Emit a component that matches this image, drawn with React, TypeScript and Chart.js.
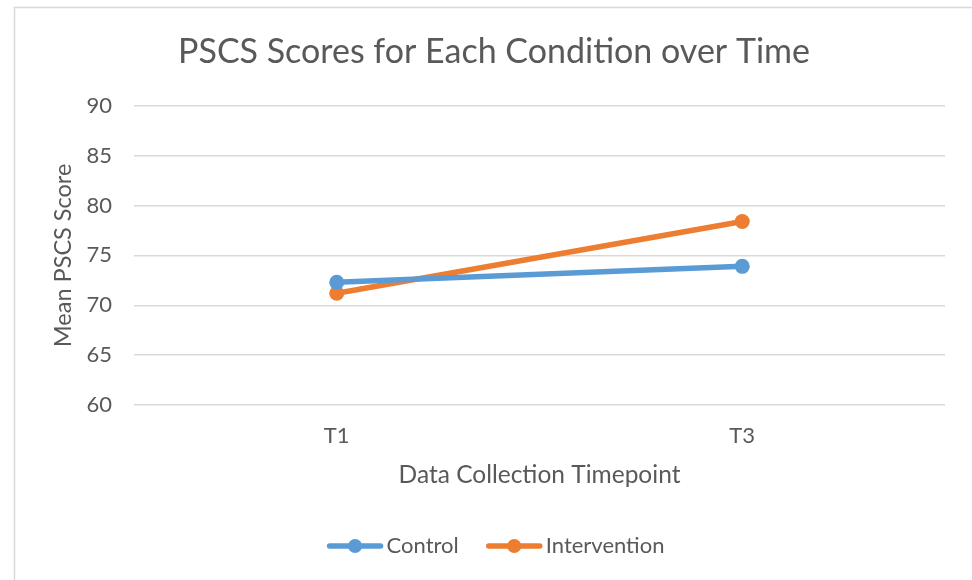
import React, { useEffect, useRef } from "react";
import { Chart, registerables } from "chart.js";

Chart.register(...registerables);

const categories = ["T1", "T3"];
const seriesNames = ["Control", "Intervention"];
const controlValues = [72.3, 73.9];
const interventionValues = [71.2, 78.4];
const seriesColors = ["#5B9BD5", "#ED7D31"];
const yTicks = { min: 60, max: 90, step: 5 };

const chartTitle = "PSCS Scores for Each Condition over Time";
const xTitle = "Data Collection Timepoint";
const yTitle = "Mean PSCS Score";

const FONT = "Lato, 'Open Sans', sans-serif";
const TEXT = "#595959";

const framePlugin = {
  id: "frame",
  beforeDraw(chart: any) {
    const { ctx, width, height } = chart;
    ctx.save();
    ctx.fillStyle = "#ffffff";
    ctx.fillRect(0, 0, width, height);
    ctx.strokeStyle = "#D9D9D9";
    ctx.lineWidth = 1.5;
    ctx.strokeRect(14.5, 7.5, width + 20, height + 20);
    ctx.restore();
  },
};

const legendPlugin = {
  id: "lineLegend",
  afterDraw(chart: any) {
    const { ctx } = chart;
    const y = 546;
    const lineLen = 55;
    const gap = 4;
    const itemGap = 28;
    ctx.save();
    ctx.font = `22px ${FONT}`;
    const items = chart.data.datasets.map((d: any) => ({
      label: d.label,
      color: d.borderColor,
      w: lineLen + gap + ctx.measureText(d.label).width,
    }));
    const total = items.reduce((s: number, it: any) => s + it.w, 0) + itemGap * (items.length - 1);
    let x = 496 - total / 2;
    items.forEach((it: any) => {
      ctx.strokeStyle = it.color;
      ctx.lineWidth = 5.5;
      ctx.lineCap = "round";
      ctx.beginPath();
      ctx.moveTo(x + 2, y);
      ctx.lineTo(x + lineLen - 2, y);
      ctx.stroke();
      ctx.fillStyle = it.color;
      ctx.beginPath();
      ctx.arc(x + lineLen / 2, y, 7, 0, Math.PI * 2);
      ctx.fill();
      ctx.fillStyle = TEXT;
      ctx.textBaseline = "middle";
      ctx.textAlign = "left";
      ctx.fillText(it.label, x + lineLen + gap, y);
      x += it.w + itemGap;
    });
    ctx.restore();
  },
};

export default function App() {
  const ref = useRef<HTMLCanvasElement | null>(null);
  useEffect(() => {
    if (!ref.current) return;
    const values = [controlValues, interventionValues];
    const chart = new Chart(ref.current, {
      type: "line",
      data: {
        labels: categories,
        datasets: seriesNames.map((name, i) => ({
          label: name,
          data: values[i],
          borderColor: seriesColors[i],
          backgroundColor: seriesColors[i],
          borderWidth: 5.5,
          pointRadius: 7.5,
          pointBorderWidth: 0,
          pointBackgroundColor: seriesColors[i],
          tension: 0,
          borderCapStyle: "round",
        })),
      },
      options: {
        responsive: false,
        animation: false,
        layout: { padding: { left: 43, right: 27, top: 0, bottom: 75 } },
        plugins: {
          legend: { display: false },
          tooltip: { enabled: false },
          title: {
            display: true,
            text: chartTitle,
            color: TEXT,
            font: { family: FONT, size: 34, weight: "normal" },
            padding: { top: 32, bottom: 33 },
          },
        },
        scales: {
          x: {
            offset: true,
            grid: { display: false, drawTicks: false },
            border: { display: false },
            ticks: { color: TEXT, font: { family: FONT, size: 22 }, padding: 18 },
            title: {
              display: true,
              text: xTitle,
              color: TEXT,
              font: { family: FONT, size: 24.5 },
              padding: { top: 0, bottom: 15 },
            },
            afterFit(scale: any) {
              scale.height = 100;
            },
          },
          y: {
            min: yTicks.min,
            max: yTicks.max,
            grid: { color: "#D9D9D9", lineWidth: 1.5, drawTicks: false },
            border: { display: false },
            ticks: { stepSize: yTicks.step, color: TEXT, font: { family: FONT, size: 22 }, padding: 22 },
            title: {
              display: true,
              text: yTitle,
              color: TEXT,
              font: { family: FONT, size: 23.5 },
              padding: { top: 6, bottom: 0 },
            },
            afterFit(scale: any) {
              scale.width = 91;
            },
          },
        },
      },
      plugins: [framePlugin, legendPlugin],
    });
    return () => chart.destroy();
  }, []);
  return (
    <div style={{ position: "fixed", left: 0, top: 0, width: 972, height: 580, background: "#fff" }}>
      <canvas ref={ref} width={972} height={580} />
    </div>
  );
}
